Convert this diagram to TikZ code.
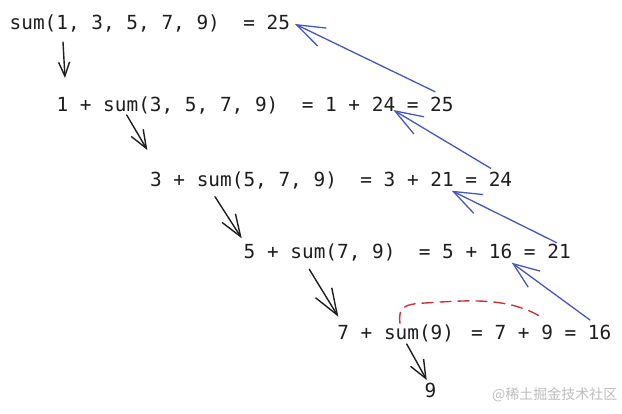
\documentclass[tikz,border=0pt]{standalone}
\usepackage{fontspec}
\newfontfamily\codefont{DejaVu Sans Mono}
\newfontfamily\cjkfont{Noto Sans CJK SC}
\usetikzlibrary{arrows.meta,calc}
\definecolor{inkblack}{HTML}{1E1E1E}
\definecolor{inkblue}{RGB}{68,88,196}
\definecolor{inkred}{RGB}{204,51,51}
\definecolor{wmgray}{RGB}{190,190,190}
\begin{document}
\begin{tikzpicture}[x=1pt,y=-1pt,
  code/.style={font=\codefont\fontsize{19.4}{23}\selectfont\frenchspacing, text=inkblack, inner sep=0pt, anchor=base west},
  callarrow/.style={draw=inkblack, line width=1.4pt, line cap=round, line join=round},
  retarrow/.style={draw=inkblue, line width=1.3pt, line cap=round, line join=round},
  memo/.style={draw=inkred, line width=1.4pt, dash pattern=on 11pt off 7pt, line cap=round},
  wm/.style={font=\cjkfont\fontsize{14}{16}\selectfont, text=wmgray, inner sep=0pt, anchor=base west}
]
\fill[white] (0,0) rectangle (622,413);
\useasboundingbox (0,0) rectangle (622,413);

% text lines
\node[code] (L1) at (9.5,29) {sum(1, 3, 5, 7, 9)\ \ = 25};
\node[code] (L2) at (56.3,111) {1 + sum(3, 5, 7, 9)\ \ = 1 + 24 = 25};
\node[code] (L3) at (149.9,186) {3 + sum(5, 7, 9)\ \ = 3 + 21 = 24};
\node[code] (L4) at (243.5,258) {5 + sum(7, 9)\ \ = 5 + 16 = 21};
\node[code] (L5) at (337.1,339) {7 + sum(9)};
\node[code] (R5) at (471,339) {= 7 + 9 = 16};
\node[code] (N9) at (424.5,397) {9};
\node[wm] (WM) at (492,399) {@稀土掘金技术社区};

% call arrow end points
\coordinate (a1s) at ($(L1.base west)+(53.5,13)$);
\coordinate (a1e) at ($(L2.base west)+(8.7,-33)$);
\coordinate (a2s) at ($(L2.base west)+(70.4,4)$);
\coordinate (a2e) at ($(L3.base west)+(-2.6,-36)$);
\coordinate (a3s) at ($(L3.base west)+(65.1,10.7)$);
\coordinate (a3e) at ($(L4.base west)+(-1.8,-19.7)$);
\coordinate (a4s) at ($(L4.base west)+(65.8,11.3)$);
\coordinate (a4e) at ($(L5.base west)+(1.2,-22.3)$);
\coordinate (a5s) at ($(L5.base west)+(69.6,5)$);
\coordinate (a5e) at ($(N9.base west)+(2.2,-17)$);

% return arrow end points
\coordinate (b1s) at ($(L2.base west)+(378.7,-19.3)$);
\coordinate (b1e) at ($(L1.base west)+(285.5,-5)$);
\coordinate (b2s) at ($(L3.base west)+(340.8,-17.7)$);
\coordinate (b2e) at ($(L2.base west)+(337,-1)$);
\coordinate (b3s) at ($(L4.base west)+(313.2,-15.3)$);
\coordinate (b3e) at ($(L3.base west)+(301.8,4.7)$);
\coordinate (b4s) at ($(R5.base west)+(119,-19)$);
\coordinate (b4e) at ($(L4.base west)+(268.2,4.7)$);

% red memo curve ends
\coordinate (c1) at ($(L5.base west)+(62.9,-15.7)$);
\coordinate (c2) at ($(R5.base west)+(72.3,-20.7)$);

% call arrows
\draw[callarrow, -{Straight Barb[length=14pt,width=11pt]}] (a1s) -- (a1e);
\draw[callarrow, -{Straight Barb[length=18pt,width=14pt]}] (a2s) -- (a2e);
\draw[callarrow, -{Straight Barb[length=22pt,width=16pt]}] (a3s) -- (a3e);
\draw[callarrow, -{Straight Barb[length=26pt,width=19pt]}] (a4s) -- (a4e);
\draw[callarrow, -{Straight Barb[length=18pt,width=15pt]}] (a5s) -- (a5e);

% return arrows
\draw[retarrow, -{Straight Barb[length=28pt,width=20pt]}] (b1s) -- (b1e);
\draw[retarrow, -{Straight Barb[length=28pt,width=20pt]}] (b2s) -- (b2e);
\draw[retarrow, -{Straight Barb[length=28pt,width=21pt]}] (b3s) -- (b3e);
\draw[retarrow, -{Straight Barb[length=26pt,width=20pt]}] (b4s) -- (b4e);

% memo curve
\draw[memo] (c1) .. controls (398,307) and (404,304) .. (425,303)
  .. controls (470,300) and (510,297) .. (c2);
\end{tikzpicture}
\end{document}
